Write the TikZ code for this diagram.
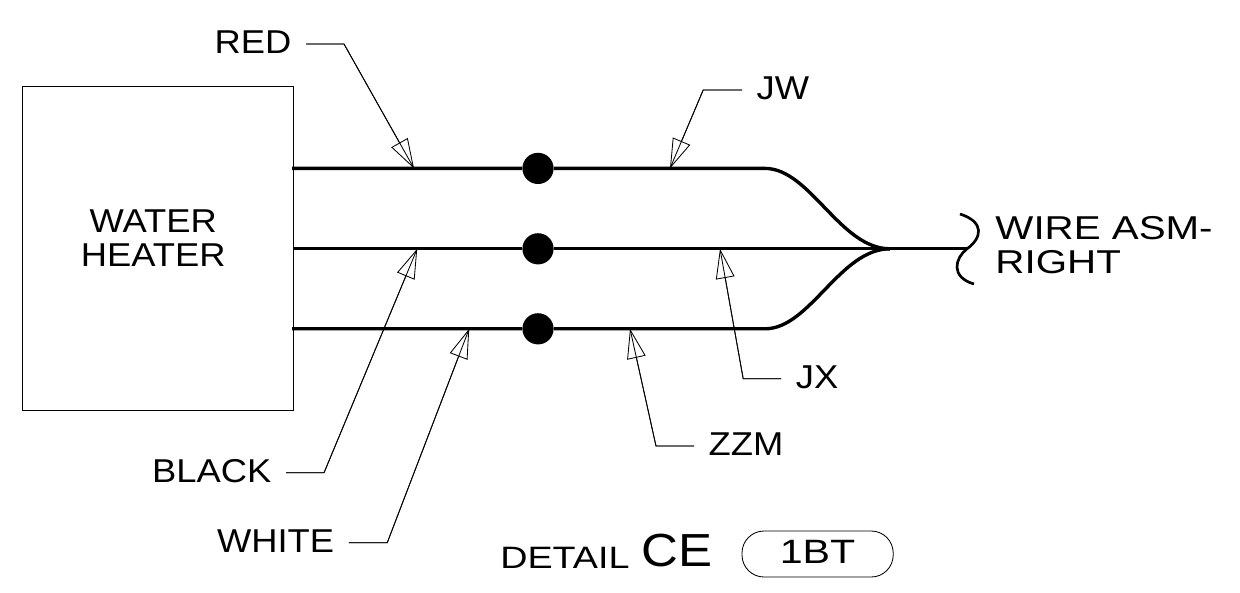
\documentclass[tikz,border=0pt]{standalone}
\usepackage{fontspec}
\setmainfont[FakeStretch=1.1]{Liberation Sans}
\newfontfamily\widefont[FakeStretch=1.22]{Liberation Sans}
\usetikzlibrary{arrows.meta}
\tikzstyle{box} = [draw=black, line width=0.6pt, inner sep=0pt]
\tikzstyle{wire} = [line width=2.4pt]
\tikzstyle{tail} = [line width=1.9pt]
\tikzstyle{dot} = [circle, fill=black, minimum size=0.78cm, inner sep=0pt]
\tikzstyle{title} = [font=\fontsize{23.5}{24.5}\selectfont, inner sep=0pt]
\tikzstyle{callout} = [font=\fontsize{23.5}{24.5}\selectfont, text depth=0.08cm, inner ysep=0pt, inner xsep=0.36cm]
\tikzstyle{leader} = [line width=0.6pt, -{Triangle[open,length=0.74cm,width=0.47cm]}, postaction={draw,arrows=-}]

\begin{document}
\begin{tikzpicture}
\useasboundingbox (0,0) rectangle (31,-14.8);

%heater
\node[box, minimum width=6.775cm, minimum height=8.1cm] (heater) at (3.9375,-6.22) {};
\node[title, align=center] (water) at (3.83,-5.95) {WATER\\HEATER};

%wire ends and joints
\coordinate (wa) at (7.3,-4.21);
\coordinate (wb) at (heater.east);
\coordinate (wc) at (7.3,-8.22);
\coordinate (bendA) at (19.125,-4.21);
\coordinate (bendC) at (19.125,-8.22);
\coordinate (merge) at (22.25,-6.22);
\coordinate (mergeEnd) at (22.53,-6.22);
\coordinate (cut) at (24.175,-6.22);

%splices
\node[dot] (dotA) at (13.45,-4.21) {};
\node[dot] (dotB) at (13.45,-6.22) {};
\node[dot] (dotC) at (13.45,-8.22) {};

%wires
\draw[wire] (wa) -- (dotA) -- (bendA) .. controls (20.25,-4.21) and (21,-6.22) .. (merge);
\draw[wire] (wb) -- (dotB) -- (mergeEnd);
\draw[wire] (wc) -- (dotC) -- (bendC) .. controls (20.25,-8.22) and (21,-6.22) .. (merge);
\draw[tail] (mergeEnd) -- (cut);

%break line
\coordinate (brkTop) at (24,-5.35);
\coordinate (brkBot) at (24.35,-7.1);
\draw[tail] (brkTop) .. controls (24.625,-5.55) and (24.55,-5.95) .. (cut) .. controls (23.875,-6.45) and (23.75,-6.925) .. (brkBot);
\node[inner sep=0pt, font=\widefont\fontsize{23.5}{24}\selectfont, anchor=west, align=left] (wireasm) at (24.88,-6.12) {WIRE ASM-\\RIGHT};

%callouts
\node[callout, anchor=east] (red) at (7.65,-1.1) {RED};
\coordinate (redBend) at (8.6,-1.1);
\coordinate (redTip) at (10.35,-4.21);
\draw[leader] (red.east) -- (redBend) -- (redTip);

\node[callout, anchor=west] (jw) at (18.55,-2.25) {JW};
\coordinate (jwBend) at (17.58,-2.25);
\coordinate (jwTip) at (16.75,-4.21);
\draw[leader] (jw.west) -- (jwBend) -- (jwTip);

\node[callout, anchor=east] (black) at (7.15,-11.82) {BLACK};
\coordinate (blackBend) at (8.1,-11.82);
\coordinate (blackTip) at (10.43,-6.22);
\draw[leader] (black.east) -- (blackBend) -- (blackTip);

\node[callout, anchor=east] (white) at (8.72,-13.57) {WHITE};
\coordinate (whiteBend) at (9.68,-13.57);
\coordinate (whiteTip) at (11.73,-8.22);
\draw[leader] (white.east) -- (whiteBend) -- (whiteTip);

\node[callout, anchor=west] (jx) at (19.53,-9.47) {JX};
\coordinate (jxBend) at (18.58,-9.47);
\coordinate (jxTip) at (18,-6.22);
\draw[leader] (jx.west) -- (jxBend) -- (jxTip);

\node[callout, anchor=west] (zzm) at (17.35,-11.15) {ZZM};
\coordinate (zzmBend) at (16.4,-11.15);
\coordinate (zzmTip) at (15.75,-8.22);
\draw[leader] (zzm.west) -- (zzmBend) -- (zzmTip);

%title
\node[anchor=base west, inner sep=0pt, font=\widefont\fontsize{22}{24}\selectfont] (detail) at (12.5,-14.2) {DETAIL};
\node[anchor=base west, inner sep=0pt, font=\fontsize{33}{36}\selectfont] (ce) at (16.03,-14.17) {CE};
\node[draw=black, line width=0.6pt, rounded corners=0.55cm, minimum width=3.78cm, minimum height=1.15cm, inner sep=0pt, text depth=0.1cm, font=\widefont\fontsize{24}{24}\selectfont] (sheet) at (20.44,-13.85) {1BT};

\end{tikzpicture}
\end{document}
